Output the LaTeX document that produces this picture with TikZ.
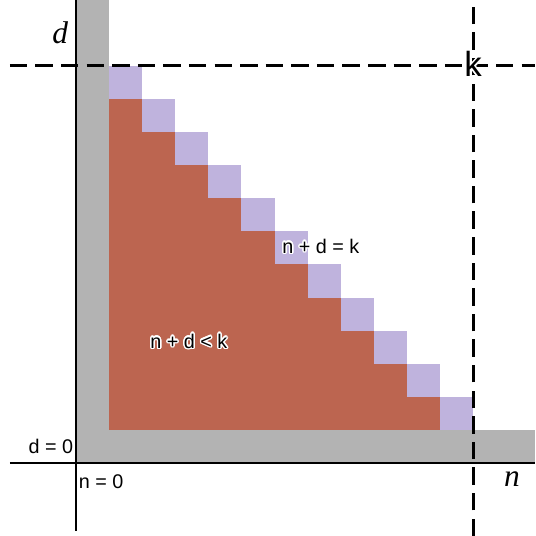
\documentclass[tikz,border=0pt]{standalone}
\usepackage{fontspec}
\setsansfont{Liberation Sans}
\newfontfamily\axisfont{Liberation Serif}
\usepackage{contour}
\contourlength{1.2pt}
\definecolor{lowred}{RGB}{188,101,80}
\definecolor{edgelav}{RGB}{191,179,221}
\definecolor{stripgray}{RGB}{179,179,179}
\tikzset{
  eqlabel/.style={font=\sffamily\fontsize{17}{19}\selectfont, inner sep=0pt},
  axislabel/.style={font=\axisfont\itshape\fontsize{27}{29}\selectfont, inner sep=0pt},
  bound/.style={dashed, line width=2.6pt, dash pattern=on 15pt off 7pt},
}
\begin{document}
\begin{tikzpicture}[x=1cm,y=1cm]
\useasboundingbox (-2.297,-2.206) rectangle (13.87,13.99);

% gray strips n = 0 and d = 0
\fill[stripgray] (0,0) rectangle (1,13.99);
\fill[stripgray] (0,0) rectangle (13.87,1);

% region n + d < k
\foreach \i in {0,...,9}
  \fill[lowred] (1+\i,1) rectangle (2+\i,11-\i);

% the diagonal n + d = k
\foreach \i in {0,...,10}
  \fill[edgelav] (1+\i,11-\i) rectangle (2+\i,12-\i);

% axes
\draw[line width=1.7pt] (-2.0,0) -- (13.87,0);
\draw[line width=1.7pt] (0,-2.05) -- (0,13.99);

% k lines
\draw[bound] (-2.0,12) -- (13.87,12);
\draw[bound] (12,-2.206) -- (12,13.99);

\node[axislabel] (dlab) at (-0.48,13.0) {d};
\node[axislabel] (nlab) at (13.17,-0.5) {n};
\node[font=\sffamily\fontsize{30}{32}\selectfont, inner sep=0pt] (klab) at (12.0,12.03) {\contour{white}{k}};

\node[eqlabel, anchor=east] (d0) at (-0.08,0.5) {d = 0};
\node[eqlabel, anchor=west] (n0) at (0.08,-0.55) {n = 0};
\node[eqlabel] (diag) at (7.4,6.53) {\contour{white}{n + d = k}};
\node[eqlabel] (below) at (3.41,3.66) {\contour{white}{n + d < k}};
\end{tikzpicture}
\end{document}
